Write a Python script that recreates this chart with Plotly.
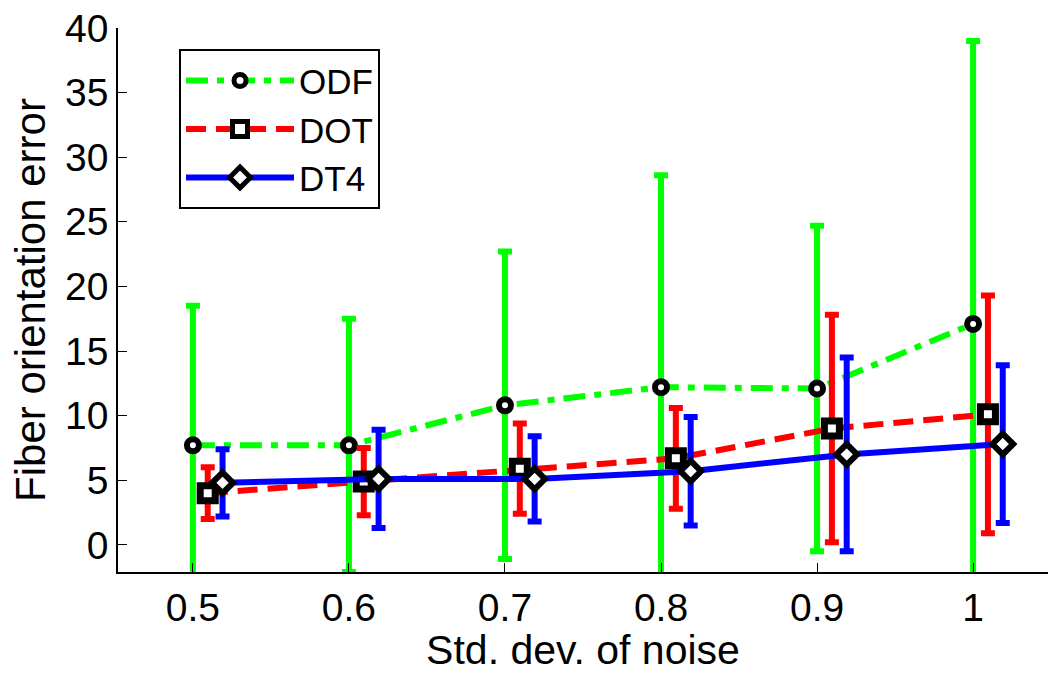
import plotly.graph_objects as go

noise = [0.5, 0.6, 0.7, 0.8, 0.9, 1.0]

odf_mean = [7.7, 7.7, 10.8, 12.2, 12.1, 17.1]
odf_err = [10.8, 9.8, 11.9, 16.4, 12.6, 21.9]

dot_mean = [4.0, 4.9, 5.9, 6.7, 9.0, 10.1]
dot_err = [2.0, 2.6, 3.5, 3.9, 8.8, 9.2]

dt4_mean = [4.8, 5.1, 5.1, 5.7, 7.0, 7.8]
dt4_err = [2.6, 3.8, 3.3, 4.2, 7.5, 6.1]

dot_shift = 0.0095
dt4_shift = 0.019

tick_vals = [0.5, 0.6, 0.7, 0.8, 0.9, 1.0]
tick_text = ["0.5", "0.6", "0.7", "0.8", "0.9", "1"]

FONT = "Liberation Sans, Arial, sans-serif"

fig = go.Figure()

fig.add_trace(go.Scatter(
    x=noise, y=odf_mean, name="ODF", mode="lines+markers",
    line=dict(color="#00FF00", width=6, dash="22px,9px,7px,9px"),
    marker=dict(symbol="circle", size=12, color="white",
                line=dict(color="black", width=6)),
    error_y=dict(type="data", array=odf_err, symmetric=True,
                 color="#00FF00", thickness=6, width=7),
))
fig.add_trace(go.Scatter(
    x=[v + dot_shift for v in noise], y=dot_mean, name="DOT", mode="lines+markers",
    line=dict(color="#FF0000", width=6, dash="20px,10px"),
    marker=dict(symbol="square", size=15, color="white",
                line=dict(color="black", width=7)),
    error_y=dict(type="data", array=dot_err, symmetric=True,
                 color="#FF0000", thickness=6, width=7),
))
fig.add_trace(go.Scatter(
    x=[v + dt4_shift for v in noise], y=dt4_mean, name="DT4", mode="lines+markers",
    line=dict(color="#0000FF", width=6),
    marker=dict(symbol="diamond", size=16, color="white",
                line=dict(color="black", width=6)),
    error_y=dict(type="data", array=dt4_err, symmetric=True,
                 color="#0000FF", thickness=6, width=7),
))

fig.update_layout(
    width=1052, height=673,
    margin=dict(l=118, r=4, t=28, b=101),
    paper_bgcolor="white", plot_bgcolor="white",
    font=dict(family=FONT, size=39, color="black"),
    showlegend=True,
    legend=dict(
        x=0.0656, y=0.961, xanchor="left", yanchor="top",
        bgcolor="white", bordercolor="black", borderwidth=2,
        font=dict(family=FONT, size=35, color="black"),
        itemwidth=108, tracegroupgap=0,
    ),
    xaxis=dict(
        range=[0.452, 1.048], tickvals=tick_vals, ticktext=tick_text,
        showline=True, linecolor="black", linewidth=1.5, mirror=False,
        ticks="inside", ticklen=9, tickcolor="black", showgrid=False, zeroline=False,
        title=dict(text="Std. dev. of noise", font=dict(size=41), standoff=4),
        tickfont=dict(size=39),
    ),
    yaxis=dict(
        range=[-2.1, 40], tickvals=[0, 5, 10, 15, 20, 25, 30, 35, 40],
        showline=True, linecolor="black", linewidth=1.5, mirror=False,
        ticks="inside", ticklen=9, tickcolor="black", showgrid=False, zeroline=False,
        title=dict(text="Fiber orientation error", font=dict(size=42), standoff=6),
        tickfont=dict(size=39),
    ),
)

fig.write_html("out.html")
